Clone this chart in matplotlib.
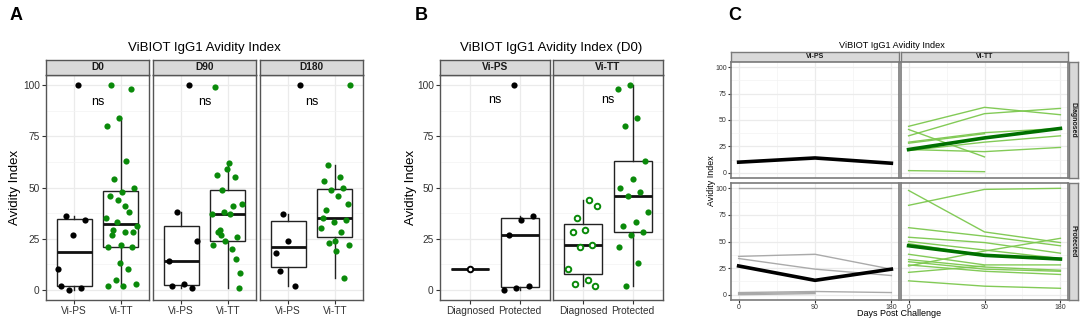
import numpy as np
import matplotlib
matplotlib.use("Agg")
import matplotlib.pyplot as plt

plt.rcParams['font.family'] = ['Liberation Sans', 'DejaVu Sans']

nan = np.nan
groups = ["Vi-PS", "Vi-TT"]
outcomes = ["Diagnosed", "Protected"]
day_labels = ["D0", "D90", "D180"]
day_values = [0, 90, 180]

# per-subject avidity index at D0, D90, D180 (nan = not measured)
ps_diag_subj = [[10, 14, 9]]
ps_prot_subj = [[100, 100, 100], [36, 38, 24], [34, 24, 18], [27, nan, nan],
                [2, 3, 2], [1, 2, nan], [0, 1, nan], [nan, nan, 37]]
tt_diag_subj = [[44, 62, 55], [35, 56, 61], [41, 15, nan], [29, 38, 42],
                [28, 37, nan], [22, 20, 24], [21, 29, 35], [10, nan, nan],
                [5, nan, nan], [3, nan, nan], [2, 1, nan]]
tt_prot_subj = [[100, nan, 50], [98, 59, 49], [84, 99, 100], [80, nan, nan],
                [63, 55, 46], [54, 49, 39], [50, 42, 34], [48, 37, 33],
                [46, nan, 30], [38, 28, 28], [33, 26, 23], [31, 24, 22],
                [28, 22, 19], [27, 41, 53], [21, 27, nan], [13, 8, 6], [2, nan, nan]]

W, H = 1084, 322
fig = plt.figure(figsize=(W / 100, H / 100), dpi=100)

GREEN = '#0a8a0a'
BORDER = '#555555'


def add_ax(x0, y0, x1, y1):
    return fig.add_axes([x0 / W, 1 - y1 / H, (x1 - x0) / W, (y1 - y0) / H])


def col(subj, k):
    a = np.array(subj, dtype=float)[:, k]
    return a[~np.isnan(a)]


def jit(n, w=0.3, phase=0.0):
    return ((np.arange(n) * 0.618034 + phase) % 1.0 - 0.5) * 2 * w


def strip(x0, y0, x1, y1, text, size, rotation=0, ec=BORDER):
    sa = add_ax(x0, y0, x1, y1)
    sa.set_facecolor('#D9D9D9')
    sa.set_xticks([])
    sa.set_yticks([])
    for s in sa.spines.values():
        s.set_color(ec)
        s.set_linewidth(1.0)
    sa.text(0.5, 0.5, text, ha='center', va='center', fontsize=size,
            fontweight='bold', rotation=rotation, transform=sa.transAxes, color='#1a1a1a')


def style(ax, labelsize=7.3, ec=BORDER, lw=1.0):
    ax.set_ylim(-5, 105)
    ax.set_yticks([0, 25, 50, 75, 100])
    ax.set_yticks([12.5, 37.5, 62.5, 87.5], minor=True)
    ax.grid(True, which='major', color='#EBEBEB', lw=0.9)
    ax.grid(True, which='minor', axis='y', color='#F3F3F3', lw=0.5)
    ax.set_axisbelow(True)
    for s in ax.spines.values():
        s.set_color(ec)
        s.set_linewidth(lw)
    ax.tick_params(which='minor', length=0)
    ax.tick_params(which='major', length=3, width=0.8, color='#333333',
                   labelsize=labelsize, pad=1.5, labelcolor='#333333')


def boxes(ax, data, pos):
    ax.boxplot(data, positions=pos, widths=0.75, whis=1.5, showfliers=False,
               showcaps=False, patch_artist=True,
               medianprops=dict(color='#111111', lw=2.0),
               boxprops=dict(facecolor='white', edgecolor='#222222', lw=1.0),
               whiskerprops=dict(color='#222222', lw=1.0), zorder=2)


# ---------------- Panel A ----------------
ps_all = ps_diag_subj + ps_prot_subj
tt_all = tt_diag_subj + tt_prot_subj
A_x = [(46, 149), (153, 256), (260, 363)]
for k, (x0, x1) in enumerate(A_x):
    ax = add_ax(x0, 75, x1, 300)
    strip(x0, 60, x1, 75, day_labels[k], 7.3)
    data = [col(ps_all, k), col(tt_all, k)]
    style(ax)
    boxes(ax, data, [1, 2])
    for j, (vals, c) in enumerate(zip(data, ['black', GREEN])):
        ax.scatter(1 + j + jit(len(vals), 0.34, 0.13 * k + 0.4 * j), vals,
                   s=20, color=c, zorder=3, lw=0)
    ax.text(1.5, 92, 'ns', ha='center', va='center', fontsize=9)
    ax.set_xlim(0.4, 2.6)
    ax.set_xticks([1, 2])
    ax.set_xticklabels(groups)
    if k > 0:
        ax.tick_params(axis='y', labelleft=False, length=0)

fig.text(204 / W, 1 - 48 / H, 'ViBIOT IgG1 Avidity Index', ha='center', va='center', fontsize=9.5)
fig.text(15 / W, 1 - 187 / H, 'Avidity Index', ha='center', va='center', fontsize=9.5, rotation=90)
fig.text(16 / W, 1 - 16 / H, 'A', ha='center', va='center', fontsize=13, fontweight='bold')

# ---------------- Panel B ----------------
B_x = [(440, 550), (553, 663)]
B_subj = [(ps_diag_subj, ps_prot_subj, 'black'), (tt_diag_subj, tt_prot_subj, GREEN)]
for k, (x0, x1) in enumerate(B_x):
    ax = add_ax(x0, 75, x1, 300)
    strip(x0, 60, x1, 75, groups[k], 7.3)
    dsub, psub, c = B_subj[k]
    data = [col(dsub, 0), col(psub, 0)]
    style(ax)
    boxes(ax, data, [1, 2])
    ax.scatter(1 + jit(len(data[0]), 0.32, 0.2 * k + 0.5) * (len(data[0]) > 1), data[0],
               s=16, facecolors='white', edgecolors=c, lw=1.4, zorder=3)
    ax.scatter(2 + jit(len(data[1]), 0.32, 0.3 + 0.1 * k), data[1], s=20, color=c, zorder=3, lw=0)
    ax.text(1.5, 93, 'ns', ha='center', va='center', fontsize=9)
    ax.set_xlim(0.4, 2.6)
    ax.set_xticks([1, 2])
    ax.set_xticklabels(outcomes)
    if k > 0:
        ax.tick_params(axis='y', labelleft=False, length=0)

fig.text(551 / W, 1 - 48 / H, 'ViBIOT IgG1 Avidity Index (D0)', ha='center', va='center', fontsize=9.5)
fig.text(411 / W, 1 - 187 / H, 'Avidity Index', ha='center', va='center', fontsize=9.5, rotation=90)
fig.text(421 / W, 1 - 16 / H, 'B', ha='center', va='center', fontsize=13, fontweight='bold')

# ---------------- Panel C ----------------
C_cols = [(731, 899), (901, 1068)]
C_rows = [(62, 178), (183, 300)]
C_subj = [[ps_diag_subj, ps_prot_subj], [tt_diag_subj, tt_prot_subj]]
thin_col = ['#a6a6a6', '#7cc84e']
thick_col = ['#000000', '#007000']
CB = '#7a7a7a'
for gi, (x0, x1) in enumerate(C_cols):
    strip(x0, 52, x1, 62, groups[gi], 5, ec=CB)
    for oi, (y0, y1) in enumerate(C_rows):
        ax = add_ax(x0, y0, x1, y1)
        style(ax, labelsize=5, ec=CB, lw=1.2)
        ax.tick_params(length=2, pad=1)
        ax.set_xlim(-9, 189)
        ax.set_xticks(day_values)
        ax.set_xticks([45, 135], minor=True)
        ax.grid(True, which='minor', axis='x', color='#F3F3F3', lw=0.5)
        subj = np.array(C_subj[gi][oi], dtype=float)
        for row in subj:
            ax.plot(day_values, row, color=thin_col[gi], lw=1.0, alpha=0.95, zorder=2)
        med = np.nanmedian(subj, axis=0)
        ax.plot(day_values, med, color=thick_col[gi], lw=2.6, zorder=3)
        if gi > 0:
            ax.tick_params(axis='y', labelleft=False, length=0)
        if oi == 0:
            ax.tick_params(axis='x', labelbottom=False, length=0)
for oi, (y0, y1) in enumerate(C_rows):
    strip(1069, y0, 1078, y1, outcomes[oi], 5, rotation=-90, ec=CB)

fig.text(892 / W, 1 - 45 / H, 'ViBIOT IgG1 Avidity Index', ha='center', va='center', fontsize=6.6)
fig.text(899 / W, 1 - 314 / H, 'Days Post Challenge', ha='center', va='center', fontsize=6.5)
fig.text(711 / W, 1 - 181 / H, 'Avidity Index', ha='center', va='center', fontsize=6.4, rotation=90)
fig.text(735 / W, 1 - 16 / H, 'C', ha='center', va='center', fontsize=13, fontweight='bold')

fig.savefig('out.png', dpi=100, facecolor='white')
